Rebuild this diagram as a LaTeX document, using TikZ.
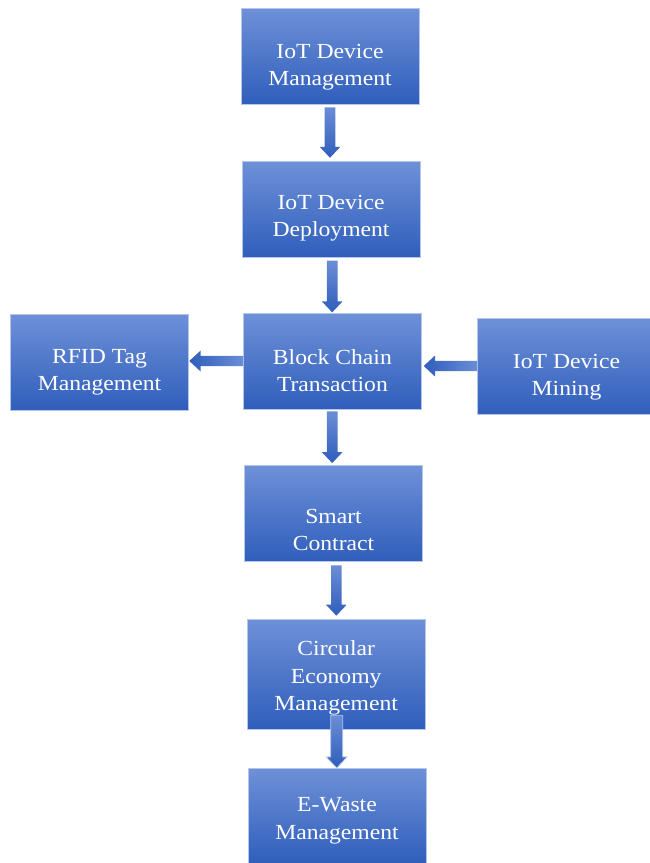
\documentclass[tikz,border=0pt]{standalone}
\usepackage{fontspec}
\newfontfamily\boxfont[FakeStretch=1.1]{Liberation Serif}
\usetikzlibrary{calc}
\definecolor{boxtop}{HTML}{6E90D8}
\definecolor{boxbot}{HTML}{2F5EBB}
\definecolor{arrlight}{HTML}{6B8DD6}
\definecolor{arrdark}{HTML}{2F5EBB}
\definecolor{edgecol}{HTML}{B4C6EC}
% vertical connector: #1 from, #2 to, #3 x centre (px), #4 top gap, #5 tip gap
\newcommand\vconn[5]{%
  \shade[varrowsh] let \p1=(#1.south), \p2=(#2.north) in
   (#3pt-5.3pt,\y1-#4pt) -- (#3pt+5.3pt,\y1-#4pt) -- (#3pt+5.3pt,\y2+#5pt+11pt)
   -- (#3pt+10.4pt,\y2+#5pt+11pt) -- (#3pt,\y2+#5pt) -- (#3pt-10.4pt,\y2+#5pt+11pt)
   -- (#3pt-5.3pt,\y2+#5pt+11pt) -- cycle;}
% horizontal connector pointing left: #1 from (right node), #2 to (left node), #3 y centre (px), #4 tip gap
\newcommand\hconn[4]{%
  \shade[harrowsh] let \p1=(#1.west), \p2=(#2.east) in
   (\x1,-#3pt+5.2pt) -- (\x2+#4pt+11.3pt,-#3pt+5.2pt) -- (\x2+#4pt+11.3pt,-#3pt+10.5pt)
   -- (\x2+#4pt,-#3pt) -- (\x2+#4pt+11.3pt,-#3pt-10.5pt) -- (\x2+#4pt+11.3pt,-#3pt-5.2pt)
   -- (\x1,-#3pt-5.2pt) -- cycle;}
\begin{document}
\begin{tikzpicture}[x=1pt,y=-1pt,
  box/.style={rectangle, draw=edgecol, line width=0.7pt, top color=boxtop, bottom color=boxbot,
    minimum width=178pt, minimum height=96pt, inner sep=0pt},
  lbl/.style={text=white, font=\boxfont\fontsize{21.5}{27.2}\selectfont, align=center,
    inner sep=0pt, text depth=4.7pt},
  varrowsh/.style={top color=arrlight, bottom color=arrdark},
  harrowsh/.style={left color=arrdark, right color=arrlight},
]
\useasboundingbox (0,0) rectangle (649,863);
% boxes
\node[box] (m1) at (330,56.2) {};
\node[box] (m2) at (331.1,209.5) {};
\node[box] (bc) at (332.4,361.3) {};
\node[box] (rf) at (99.5,362.5) {};
\node[box] (mi) at (566.5,366.8) {};
\node[box] (sc) at (333.5,513.7) {};
\node[box, minimum height=110pt] (ce) at (336.2,674) {};
\node[box] (ew) at (337,816.3) {};
% labels
\node[lbl] (t1) at (330,67.2) {IoT Device\\Management};
\node[lbl] (t2) at (331.1,218.6) {IoT Device\\Deployment};
\node[lbl] (t3) at (332.4,372.6) {Block Chain\\Transaction};
\node[lbl] (t4) at (99.5,372.6) {RFID Tag\\Management};
\node[lbl] (t5) at (566.5,377.6) {IoT Device\\Mining};
\node[lbl] (t6) at (333.5,531.9) {Smart\\Contract};
\node[lbl] (t7) at (336.2,678) {Circular\\Economy\\Management};
\node[lbl] (t8) at (337,820.9) {E-Waste\\Management};
% connectors
\vconn{m1}{m2}{330}{2.7}{3.4}
\vconn{m2}{bc}{332.2}{2.7}{0.6}
\vconn{bc}{sc}{332.2}{1.7}{2.3}
\vconn{sc}{ce}{336.3}{3.3}{3}
\hconn{bc}{rf}{361}{0.5}
\hconn{mi}{bc}{366}{2}
\shade[varrowsh, draw=edgecol, line width=0.7pt] let \p1=(ce.south), \p2=(ew.north) in
   (336.7pt-6pt,\y1+14pt) -- (336.7pt+6pt,\y1+14pt) -- (336.7pt+6pt,\y2+11pt)
   -- (336.7pt+10.4pt,\y2+11pt) -- (336.7pt,\y2) -- (336.7pt-10.4pt,\y2+11pt)
   -- (336.7pt-6pt,\y2+11pt) -- cycle;
\end{tikzpicture}
\end{document}
